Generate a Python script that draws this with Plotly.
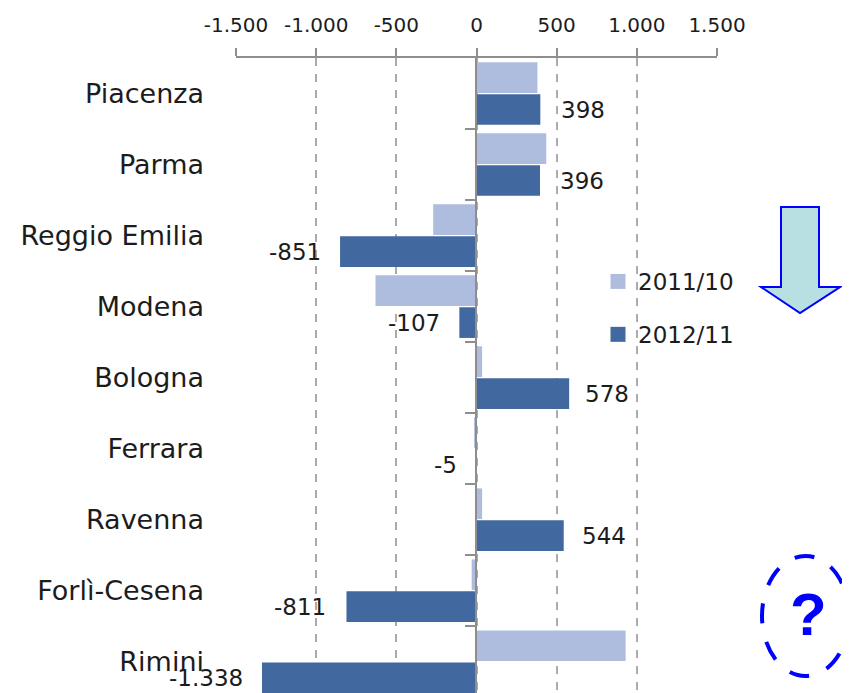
import plotly.graph_objects as go

categories = ["Piacenza", "Parma", "Reggio Emilia", "Modena", "Bologna",
              "Ferrara", "Ravenna", "Forlì-Cesena", "Rimini"]
values_2011 = [380, 435, -270, -630, 35, -15, 35, -30, 930]
values_2012 = [398, 396, -851, -107, 578, -5, 544, -811, -1338]
labels_2012 = ["398", "396", "-851", "-107", "578", "-5", "544", "-811", "-1.338"]
label_gaps = [19, 18, 17, 17, 14, 17, 16, 18, 17]
series_names = ["2011/10", "2012/11"]
x_ticks = [-1500, -1000, -500, 0, 500, 1000, 1500]
x_tick_text = ["-1.500", "-1.000", "-500", "0", "500", "1.000", "1.500"]
band_edges = [0.5, 1.5, 2.5, 3.5, 4.5, 5.5, 6.5, 7.5]

OFF = 8  # page body margin
W, H = 850 - OFF, 693 - OFF
L, R, T, B = 236 - OFF, 717 - OFF, 58 - OFF, 693 - OFF
GREY = "#8E8E8E"
BLUE = "#0000FF"
FONT = "DejaVu Sans"
TEXT = "#1C1C1C"
LIGHT = "#AEBCDE"
DARK = "#41699F"


def px(x):
    return (x - OFF - L) / (R - L)


def py(y):
    return (B - (y - OFF)) / (B - T)


fig = go.Figure()
fig.add_bar(y=categories, x=values_2011, orientation="h", showlegend=False,
            marker=dict(color=LIGHT, line=dict(width=0)))
fig.add_bar(y=categories, x=values_2012, orientation="h", showlegend=False,
            marker=dict(color=DARK, line=dict(width=0)))
# legend entries, with the square keys of the original
for name, colour in zip(series_names, [LIGHT, DARK]):
    fig.add_scatter(x=[None], y=[None], mode="markers", name=name, legendgroup=name,
                    marker=dict(symbol="square", size=15, color=colour))
# category axis line that runs through zero
fig.add_scatter(y=list(range(len(categories))), x=[0] * len(categories), mode="lines", yaxis="y2",
                line=dict(width=0, color="rgba(0,0,0,0)"), showlegend=False, hoverinfo="skip")

annotations = []
for cat, val, lab, gap in zip(categories, values_2012, labels_2012, label_gaps):
    annotations.append(dict(
        x=val, y=cat, xref="x", yref="y", text=lab, showarrow=False,
        xanchor="left" if val > 0 else "right", yanchor="middle",
        xshift=gap if val > 0 else -gap, yshift=-16,
        font=dict(family=FONT, size=23, color=TEXT)))
annotations.append(dict(
    x=px(808), y=py(614), xref="paper", yref="paper", text="<b>?</b>", showarrow=False,
    xanchor="center", yanchor="middle",
    font=dict(family="Liberation Sans", size=60, color=BLUE)))

arrow_pts = [(781, 207), (819, 207), (819, 287), (840, 287), (800, 313), (761, 287), (781, 287)]
arrow_path = "M " + " L ".join(f"{px(x):.5f} {py(y):.5f}" for x, y in arrow_pts) + " Z"

shapes = [
    dict(type="path", path=arrow_path, xref="paper", yref="paper",
         fillcolor="#B8DFE2", line=dict(color=BLUE, width=2)),
    dict(type="circle", xref="paper", yref="paper",
         x0=px(762), x1=px(849), y0=py(556), y1=py(676),
         line=dict(color=BLUE, width=4, dash="20px,19px")),
]

fig.update_layout(
    width=W, height=H, autosize=False,
    margin=dict(l=L, r=W - R, t=T, b=H - B, pad=0),
    paper_bgcolor="white", plot_bgcolor="white",
    barmode="group", bargap=0.1, bargroupgap=0.04,
    font=dict(family=FONT, size=19, color=TEXT),
    xaxis=dict(side="top", range=[-1500, 1500], tickvals=x_ticks, ticktext=x_tick_text,
               showline=True, linecolor=GREY, linewidth=2, ticks="outside", ticklen=8,
               tickcolor=GREY, tickwidth=2, showgrid=True, gridcolor="#ABABAB", gridwidth=1.5,
               griddash="8px,8px", zeroline=False, ticklabelstandoff=8,
               tickfont=dict(family=FONT, size=20, color=TEXT)),
    yaxis=dict(categoryorder="array", categoryarray=categories, range=[8.44, -0.5],
               showline=False, ticks="", showgrid=False, ticklabelstandoff=31,
               tickfont=dict(family=FONT, size=27, color=TEXT)),
    yaxis2=dict(overlaying="y", anchor="free", position=px(476), side="left", type="linear",
                range=[8.44, -0.5], tickvals=band_edges,
                showline=True, linecolor=GREY, linewidth=2, ticks="outside", ticklen=10,
                tickcolor=GREY, tickwidth=1.5, showticklabels=False,
                showgrid=False, zeroline=False),
    legend=dict(x=px(598), y=py(260), xanchor="left", yanchor="top", itemsizing="trace",
                bgcolor="rgba(0,0,0,0)", tracegroupgap=20, itemwidth=30,
                font=dict(family=FONT, size=23, color=TEXT)),
    annotations=annotations, shapes=shapes,
)

fig.write_html("out.html")
